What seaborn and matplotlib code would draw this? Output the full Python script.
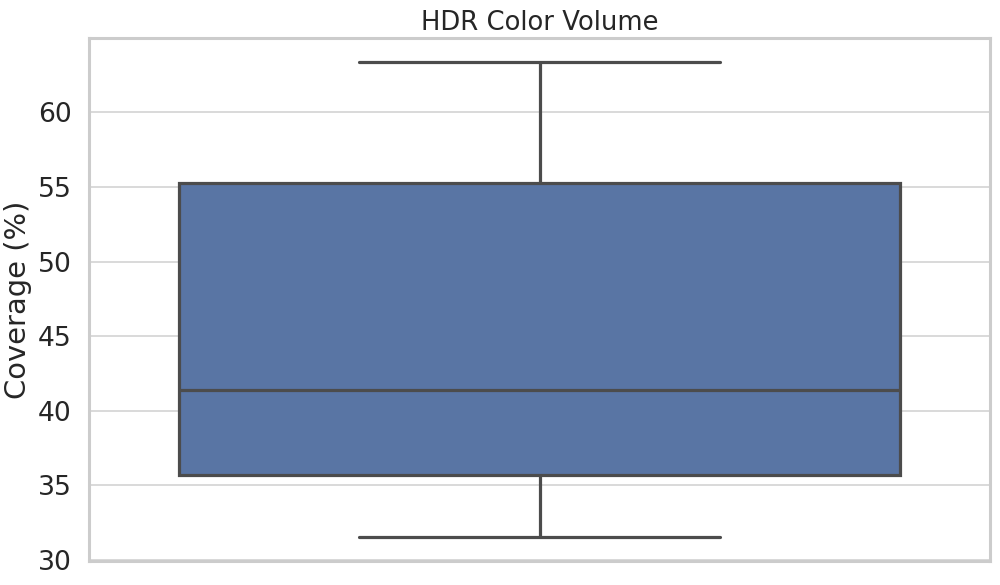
import matplotlib
matplotlib.use("Agg")
import matplotlib.pyplot as plt
import seaborn as sns

coverage = [31.5, 35.65, 41.4, 55.3, 63.4]

sns.set_theme(style="whitegrid", context="talk", font_scale=1.16,
              rc={"axes.linewidth": 2.2, "grid.linewidth": 1.4,
                  "grid.color": "#d9d9d9", "axes.edgecolor": "#cccccc"})
fig, ax = plt.subplots(figsize=(10, 5.85), dpi=100)
sns.boxplot(y=coverage, ax=ax, color="#4c72b0", linewidth=2.3)
ax.set_title("HDR Color Volume", fontsize=18.6)
ax.set_ylabel("Coverage (%)")
ax.set_xlabel("")
fig.subplots_adjust(left=0.089, right=0.99, top=0.935, bottom=0.041)
fig.savefig("out.png")
